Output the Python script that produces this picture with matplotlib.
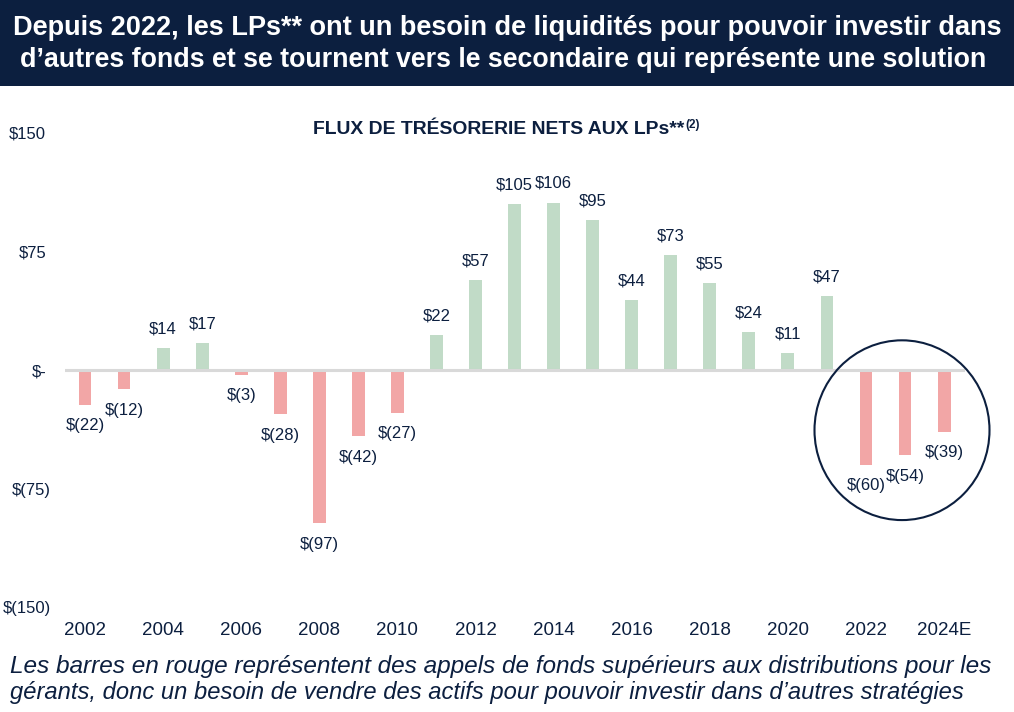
import matplotlib
matplotlib.use("Agg")
import matplotlib.pyplot as plt
from matplotlib.patches import Ellipse, Rectangle
from matplotlib.transforms import ScaledTranslation

plt.rcParams['font.family'] = ['Liberation Sans', 'DejaVu Sans']

years = ["2002", "2003", "2004", "2005", "2006", "2007", "2008", "2009", "2010",
         "2011", "2012", "2013", "2014", "2015", "2016", "2017", "2018", "2019",
         "2020", "2021", "2022", "2023", "2024E"]
values = [-22, -12, 14, 17, -3, -28, -97, -42, -27, 22, 57, 105, 106, 95, 44,
          73, 55, 24, 11, 47, -60, -54, -39]
ytick_vals = [150, 75, 0, -75, -150]
ytick_labels = ["$150", "$75", "$-", "$(75)", "$(150)"]

title_lines = ["Depuis 2022, les LPs** ont un besoin de liquidités pour pouvoir investir dans",
               "d\u2019autres fonds et se tournent vers le secondaire qui représente une solution"]
chart_title = "FLUX DE TRÉSORERIE NETS AUX LPs**"
chart_title_sup = "(2)"
footer_lines = ["Les barres en rouge représentent des appels de fonds supérieurs aux distributions pour les",
                "gérants, donc un besoin de vendre des actifs pour pouvoir investir dans d\u2019autres stratégies"]

NAVY = "#0c1f3f"
GREEN = "#c1dbc7"
RED = "#f2a6a6"

W, H = 1014, 712
fig = plt.figure(figsize=(W / 100, H / 100), dpi=100)
fig.patch.set_facecolor("white")

def fx(px):
    return px / W

def fy(py):
    return 1 - py / H

# header band
fig.patches.append(Rectangle((0, fy(86)), 1, 86 / H, transform=fig.transFigure,
                             facecolor=NAVY, edgecolor="none", zorder=0))

renderer = fig.canvas.get_renderer()

def fit_text(x, y, s, target_w, size0, **kw):
    t = fig.text(x, y, s, fontsize=size0, **kw)
    w = t.get_window_extent(renderer).width
    t.set_fontsize(size0 * target_w / w)
    return t

fit_text(fx(507), fy(28), title_lines[0], 988, 16, color="white", fontweight="bold",
         ha="center", va="center")
fit_text(fx(503), fy(60), title_lines[1], 966, 16, color="white", fontweight="bold",
         ha="center", va="center")

fit_text(fx(10), fy(667), footer_lines[0], 987, 14, color=NAVY, style="italic",
         ha="left", va="center")
fit_text(fx(10), fy(693), footer_lines[1], 957, 14, color=NAVY, style="italic",
         ha="left", va="center")

# axes
ax_left, ax_right = 65, 965
ax_top, ax_bot = 133, 607
ax = fig.add_axes([fx(ax_left), fy(ax_bot), (ax_right - ax_left) / W, (ax_bot - ax_top) / H])
ax.set_facecolor("none")
spacing = 39.05
x = list(range(len(years)))
ax.set_xlim((ax_left - 85) / spacing, (ax_right - 85) / spacing)
ax.set_ylim(-150, 150)

colors = [GREEN if v >= 0 else RED for v in values]
ax.bar(x, values, width=0.33, color=colors, zorder=2)
ax.axhline(0, color="#d9d9d9", lw=2.2, zorder=3)

for xi, v in zip(x, values):
    if v >= 0:
        lab = f"${v}"
        off = 13.7
    else:
        lab = f"$({-v})"
        off = -15.2
    ax.annotate(lab, (xi, v), xytext=(0, off), textcoords="offset points",
                ha="center", va="center", fontsize=12, color=NAVY)

for s in ax.spines.values():
    s.set_visible(False)

ax.set_yticks(ytick_vals)
ax.set_yticklabels(ytick_labels)
ax.tick_params(axis="y", length=0, pad=10, labelsize=12, labelcolor=NAVY)
for lab in ax.get_yticklabels():
    if not lab.get_text().endswith(")"):
        lab.set_transform(lab.get_transform() + ScaledTranslation(-5 / 100, 0, fig.dpi_scale_trans))

ax.set_xticks(x[::2])
ax.set_xticklabels(years[::2])
ax.tick_params(axis="x", length=0, pad=11, labelsize=13.5, labelcolor=NAVY)

# highlight circle
circ = Ellipse(((902 - 85) / spacing, -38.1), 175 / spacing, 179 / (118 / 75),
               fill=False, edgecolor=NAVY, lw=1.5, clip_on=False, zorder=4)
ax.add_patch(circ)

# chart subtitle
t = fit_text(fx(313), fy(129), chart_title, 372, 12, fontweight="bold",
             color=NAVY, ha="left", va="center")
bb = t.get_window_extent(renderer)
fig.text(fx(bb.x1 + 1), fy(125), chart_title_sup, fontsize=8.5, fontweight="bold",
         color=NAVY, ha="left", va="center")

fig.savefig("out.png", dpi=100)
